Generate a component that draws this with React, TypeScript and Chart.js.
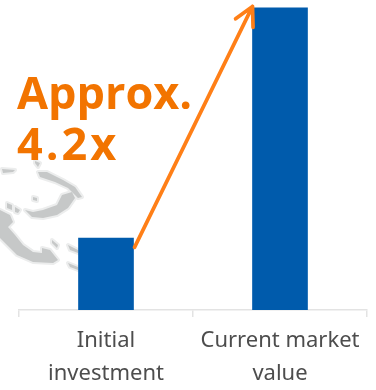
import React, { useEffect, useRef } from "react";
import { Chart, registerables } from "chart.js";

Chart.register(...registerables);

const categories = [["Initial", "investment"], ["Current market", "value"]];
const marketValues = [1.0, 4.2];
const multipleLines = ["Approx.", "4.2x"];
const LABEL_FONT = '"Noto Sans", sans-serif';
const CALLOUT_FONT = '"Open Sans", sans-serif';

// Faint map outline sitting behind the bars, as closed pixel paths.
const landmass: number[][][] = [
  [[0,210],[10,215],[13,222],[8,227],[15,235],[23,245],[33,252],[42,253],[42,248],[50,250],[58,260],[53,263],[33,262],[17,255],[0,238]],
  [[25,210],[33,212],[43,210],[57,205],[62,195],[72,192],[75,198],[68,208],[57,215],[43,218],[32,217]],
  [[38,172],[47,172],[63,180],[75,187],[82,197],[78,198],[68,188],[55,182],[40,177]],
  [[2,169],[15,170],[13,172],[3,173]],
  [[35,161],[40,163],[38,167],[35,163]],
  [[33,197],[37,198],[37,201],[33,200]],
  [[7,203],[12,205],[12,210],[7,208]],
  [[15,207],[20,210],[18,213],[15,212]],
  [[52,240],[58,245],[57,248],[52,243]],
  [[68,245],[78,250],[78,253],[70,250]],
  [[68,263],[78,267],[78,270],[70,267]],
];

const backdropPlugin = {
  id: "backdrop",
  beforeDatasetsDraw(chart: Chart) {
    const { ctx } = chart;
    const trace = (shape: number[][]) => {
      ctx.beginPath();
      shape.forEach(([x, y], i) => (i ? ctx.lineTo(x, y) : ctx.moveTo(x, y)));
      ctx.closePath();
    };
    ctx.save();
    ctx.filter = "blur(0.6px)";
    ctx.lineJoin = "round";
    ctx.strokeStyle = "#eceded";
    ctx.lineWidth = 4;
    landmass.forEach((shape) => {
      trace(shape);
      ctx.stroke();
    });
    ctx.fillStyle = "#c6c8c8";
    landmass.forEach((shape) => {
      trace(shape);
      ctx.fill();
    });
    ctx.restore();
  },
};

// Arrow between the two bars, anchored to the scales, plus the multiple label.
const growthPlugin = {
  id: "growth",
  afterDatasetsDraw(chart: Chart) {
    const { ctx } = chart;
    const first = chart.getDatasetMeta(0).data[0] as any;
    const second = chart.getDatasetMeta(0).data[1] as any;
    const y = chart.scales.y;
    const x0 = first.x + first.width / 2 + 1;
    const y0 = y.getPixelForValue(marketValues[0] * 0.87);
    const x1 = second.x - second.width / 2;
    const y1 = y.getPixelForValue(marketValues[1] * 1.005);
    const angle = Math.atan2(y1 - y0, x1 - x0);
    const head = 21;
    ctx.save();
    ctx.strokeStyle = "#ff7f17";
    ctx.lineWidth = 3.7;
    ctx.lineCap = "round";
    ctx.lineJoin = "round";
    ctx.beginPath();
    ctx.moveTo(x0, y0);
    ctx.lineTo(x1, y1);
    ctx.moveTo(x1 + head * Math.cos(angle + 2.66), y1 + head * Math.sin(angle + 2.66));
    ctx.lineTo(x1, y1);
    ctx.lineTo(x1 + head * Math.cos(angle - 2.66), y1 + head * Math.sin(angle - 2.66));
    ctx.stroke();
    ctx.fillStyle = "#f27400";
    ctx.font = `bold 45px ${CALLOUT_FONT}`;
    ctx.textBaseline = "alphabetic";
    ctx.fillText(multipleLines[0], 17, 109);
    (ctx as any).letterSpacing = "3px";
    ctx.fillText(multipleLines[1], 17, 160);
    ctx.restore();
  },
};

export default function App() {
  const ref = useRef<HTMLCanvasElement>(null);
  useEffect(() => {
    document.body.style.margin = "0";
    const chart = new Chart(ref.current!, {
      type: "bar",
      data: {
        labels: categories,
        datasets: [
          {
            data: marketValues,
            backgroundColor: "#005bac",
            barThickness: 55,
          },
        ],
      },
      options: {
        animation: false,
        responsive: false,
        layout: { padding: { left: 19, right: 9, top: 0, bottom: 0 } },
        plugins: { legend: { display: false }, tooltip: { enabled: false } },
        scales: {
          y: { display: false, min: 0, max: 4.31 },
          x: {
            afterFit(scale: any) {
              scale.height = 80;
            },
            grid: {
              drawOnChartArea: false,
              color: "#e3e3e3",
              lineWidth: 1.5,
              tickLength: 7,
              tickColor: "#e3e3e3",
            },
            border: { color: "#e3e3e3", width: 1.5 },
            ticks: {
              color: "#4d4d4d",
              font: { family: LABEL_FONT, size: 22, lineHeight: 1.5 },
              maxRotation: 0,
              autoSkip: false,
              padding: 7,
            },
          },
        },
      },
      plugins: [backdropPlugin, growthPlugin],
    });
    return () => chart.destroy();
  }, []);
  return <canvas ref={ref} width={376} height={390} style={{ display: "block" }} />;
}
